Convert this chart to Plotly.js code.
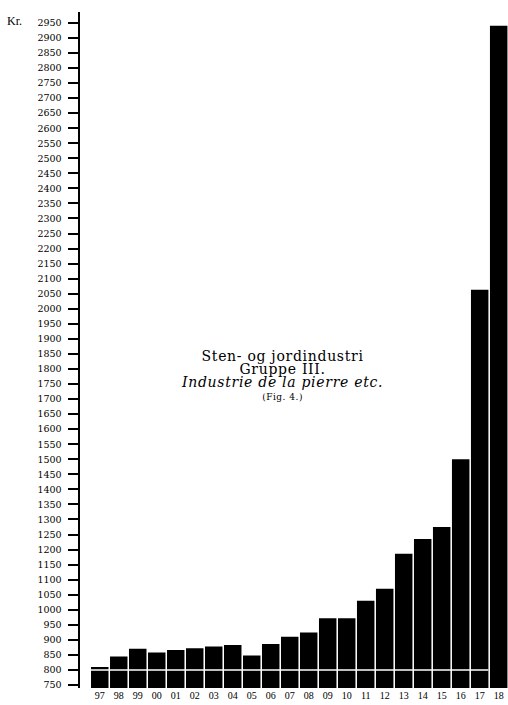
<!DOCTYPE html>
<html>
<head>
<meta charset="utf-8">
<script src="https://cdn.plot.ly/plotly-3.0.1.min.js"></script>
<style>html,body{margin:0;padding:0;background:#fff;}#chart{width:508px;height:705px;}</style>
</head>
<body>
<div id="chart"></div>
<script>
// Years 1897-1918 (two-digit labels as printed)
var years = ["97","98","99","00","01","02","03","04","05","06","07","08","09","10","11","12","13","14","15","16","17","18"];
// Values in Kr.
var values = [810, 845, 870, 858, 866, 872, 878, 883, 848, 886, 910, 924, 972, 972, 1030, 1070, 1186, 1235, 1275, 1500, 2063, 2940];
// White reference line drawn across the bars
var refLineValue = 800;
var titleLines = ["Sten- og jordindustri", "Gruppe III.", "Industrie de la pierre etc.", "(Fig. 4.)"];
var unitLabel = "Kr.";

var serif = "DejaVu Serif, Liberation Serif, serif";
var big = 'font-size:14px;letter-spacing:0.7px';
var titleText =
  '<span style="' + big + '">' + titleLines[0] + '</span><br>' +
  '<span style="' + big + '">' + titleLines[1] + '</span><br>' +
  '<span style="' + big + '"><i>' + titleLines[2] + '</i></span><br>' +
  '<span style="font-size:9px;letter-spacing:0.5px">' + titleLines[3] + '</span>';

var trace = {
  type: "bar",
  x: years,
  y: values,
  marker: {color: "#000", line: {width: 0}},
  hoverinfo: "x+y"
};

var layout = {
  width: 508, height: 705,
  margin: {l: 80, r: 0, t: 12, b: 17},
  paper_bgcolor: "#fff", plot_bgcolor: "#fff",
  showlegend: false,
  bargap: 0.08,
  xaxis: {
    type: "category",
    range: [-1.04, 21.49],
    showline: false, showgrid: false, zeroline: false,
    ticks: "", ticklen: 0,
    tickfont: {family: "Liberation Serif, serif", size: 10, color: "#000"},
    automargin: false
  },
  yaxis: {
    range: [740, 2986],
    tick0: 750, dtick: 50,
    showline: true, linecolor: "#000", linewidth: 2.5,
    showgrid: false, zeroline: false,
    ticks: "outside", ticklen: 10, tickwidth: 2, tickcolor: "#000",
    ticklabelstandoff: 4,
    tickfont: {family: "DejaVu Serif, serif", size: 9.5, color: "#000"},
    automargin: false
  },
  shapes: [{
    type: "line", xref: "x", yref: "y",
    x0: -0.46, x1: 20.46, y0: refLineValue, y1: refLineValue,
    line: {color: "#fff", width: 1.5}, layer: "above"
  }],
  annotations: [
    {text: unitLabel, xref: "paper", yref: "paper", x: -0.175, y: 0.987, xanchor: "left", yanchor: "middle", showarrow: false,
     font: {family: "Liberation Serif, serif", size: 12, color: "#000"}},
    {text: titleText, xref: "paper", yref: "paper", x: 0.471, y: 0.463, xanchor: "center", yanchor: "middle", showarrow: false,
     align: "center",
     font: {family: serif, size: 10, color: "#000"}}
  ]
};

Plotly.newPlot("chart", [trace], layout, {staticPlot: true, displayModeBar: false});
</script>
</body>
</html>
